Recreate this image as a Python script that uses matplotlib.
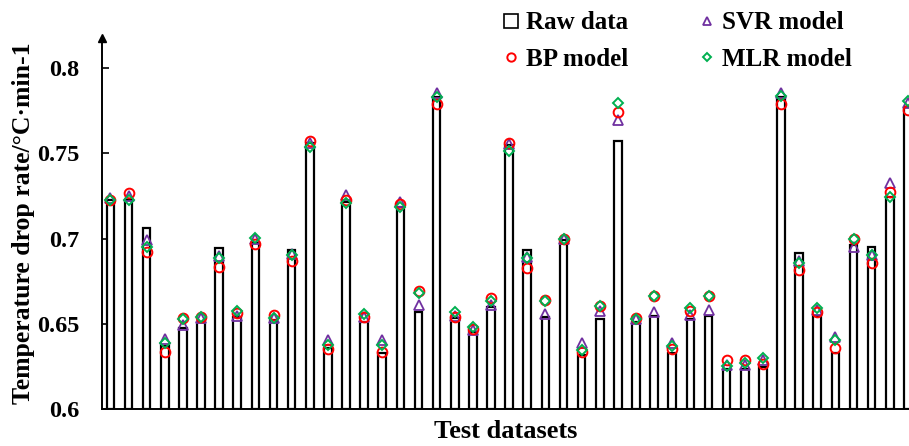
import numpy as np
import matplotlib
matplotlib.use("Agg")
import matplotlib.pyplot as plt
from matplotlib.lines import Line2D

raw = [0.7226, 0.7226, 0.706, 0.637, 0.6473, 0.6512, 0.6943, 0.654, 0.6972, 0.652,
       0.6933, 0.7558, 0.6356, 0.7216, 0.6512, 0.6327, 0.7187, 0.6567, 0.7832, 0.6532,
       0.6453, 0.660, 0.7548, 0.6933, 0.654, 0.6991, 0.6317, 0.6526, 0.7574, 0.6512,
       0.6545, 0.6327, 0.6526, 0.6545, 0.6233, 0.6233, 0.6248, 0.7832, 0.6913, 0.6545,
       0.6327, 0.6962, 0.6948, 0.7245, 0.777]
svr = [0.724, 0.7247, 0.699, 0.6409, 0.6493, 0.6535, 0.6897, 0.6545, 0.6995, 0.6532,
       0.6909, 0.756, 0.6405, 0.7255, 0.654, 0.6405, 0.7216, 0.661, 0.7851, 0.6545,
       0.6465, 0.661, 0.7555, 0.6894, 0.6557, 0.7, 0.6385, 0.6577, 0.7695, 0.6528,
       0.657, 0.6389, 0.6551, 0.6581, 0.6258, 0.6258, 0.6287, 0.7851, 0.6868, 0.6581,
       0.642, 0.6952, 0.6903, 0.7327, 0.7795]
bp = [0.7225, 0.7269, 0.6923, 0.6336, 0.6532, 0.6541, 0.6831, 0.6561, 0.697, 0.6551,
      0.6868, 0.7574, 0.635, 0.7226, 0.654, 0.6336, 0.7202, 0.6692, 0.7787, 0.654,
      0.6471, 0.6649, 0.7558, 0.6825, 0.6639, 0.6995, 0.6336, 0.6604, 0.774, 0.6532,
      0.6663, 0.635, 0.6577, 0.6663, 0.6287, 0.6287, 0.6264, 0.7787, 0.6815, 0.657,
      0.6356, 0.6995, 0.6855, 0.7275, 0.7754]
mlr = [0.7225, 0.7226, 0.6948, 0.6385, 0.653, 0.6541, 0.6884, 0.6577, 0.7001, 0.6532,
       0.6903, 0.7539, 0.6378, 0.721, 0.656, 0.6378, 0.7187, 0.6679, 0.7832, 0.6567,
       0.6479, 0.6633, 0.7515, 0.6884, 0.6633, 0.7, 0.6346, 0.6604, 0.7793, 0.6528,
       0.6663, 0.637, 0.659, 0.6663, 0.6252, 0.6268, 0.6297, 0.7836, 0.6855, 0.659,
       0.6405, 0.7, 0.6903, 0.7241, 0.7806]
yticks = [0.6, 0.65, 0.7, 0.75, 0.8]
ytick_labels = ["0.6", "0.65", "0.7", "0.75", "0.8"]

plt.rcParams['font.family'] = ['Liberation Serif', 'DejaVu Serif']
plt.rcParams['font.weight'] = 'bold'

fig = plt.figure(figsize=(9.09, 4.46), dpi=100)
ax_left = 101.5 / 909
ax_w = 1 - ax_left
ax = fig.add_axes([ax_left, 1 - 409 / 446, ax_w, (409 - 38) / 446])

x = np.arange(len(raw))
base = 0.6
ax.bar(x, np.array(raw) - base, bottom=base, width=0.42, facecolor='white',
       edgecolor='black', linewidth=1.6, zorder=2)

c_svr = '#7030A0'
c_bp = '#FF0000'
c_mlr = '#00B050'
ax.plot(x, svr, linestyle='none', marker='^', markersize=7, markerfacecolor='none',
        markeredgecolor=c_svr, markeredgewidth=1.3, zorder=3)
ax.plot(x, bp, linestyle='none', marker='o', markersize=7, markerfacecolor='none',
        markeredgecolor=c_bp, markeredgewidth=1.4, zorder=4)
ax.plot(x, mlr, linestyle='none', marker='D', markersize=5, markerfacecolor='none',
        markeredgecolor=c_mlr, markeredgewidth=1.4, zorder=5)

ax.set_xlim(-0.49, 44.06)
ax.set_ylim(0.6, 0.8176)
ax.set_yticks(yticks)
ax.set_yticklabels(ytick_labels, fontsize=17.5, fontweight='bold')
ax.set_xticks([])
ax.tick_params(axis='y', direction='in', length=5, width=1.2, pad=16)
for s in ['top', 'right']:
    ax.spines[s].set_visible(False)
for s in ['left', 'bottom']:
    ax.spines[s].set_linewidth(1.4)
ax.plot([0], [1], marker='^', color='black', markersize=6,
        transform=ax.transAxes, clip_on=False, zorder=6)

ax.set_ylabel('Temperature drop rate/\u00b0C\u00b7min-1', fontsize=18.5, fontweight='bold')
ax.yaxis.set_label_coords((35 - 101.5) / (909 * ax_w), 0.5)
ax.set_xlabel('Test datasets', fontsize=19, fontweight='bold', labelpad=8)

handles = [
    Line2D([], [], linestyle='none', marker='s', markersize=10, markerfacecolor='none',
           markeredgecolor='black', markeredgewidth=1.2),
    Line2D([], [], linestyle='none', marker='o', markersize=6, markerfacecolor='none',
           markeredgecolor=c_bp, markeredgewidth=1.4),
    Line2D([], [], linestyle='none', marker='^', markersize=6, markerfacecolor='none',
           markeredgecolor=c_svr, markeredgewidth=1.3),
    Line2D([], [], linestyle='none', marker='D', markersize=4.5, markerfacecolor='none',
           markeredgecolor=c_mlr, markeredgewidth=1.4),
]
labels = ['Raw data', 'BP model', 'SVR model', 'MLR model']
fig.legend(handles, labels, loc='upper left', bbox_to_anchor=(490 / 909, 1.0), ncol=2,
           frameon=False, prop={'size': 18, 'weight': 'bold'}, handlelength=0.8,
           handletextpad=0.2, columnspacing=2.75, labelspacing=0.55, borderaxespad=0.05)

fig.savefig('out.png', dpi=100)
